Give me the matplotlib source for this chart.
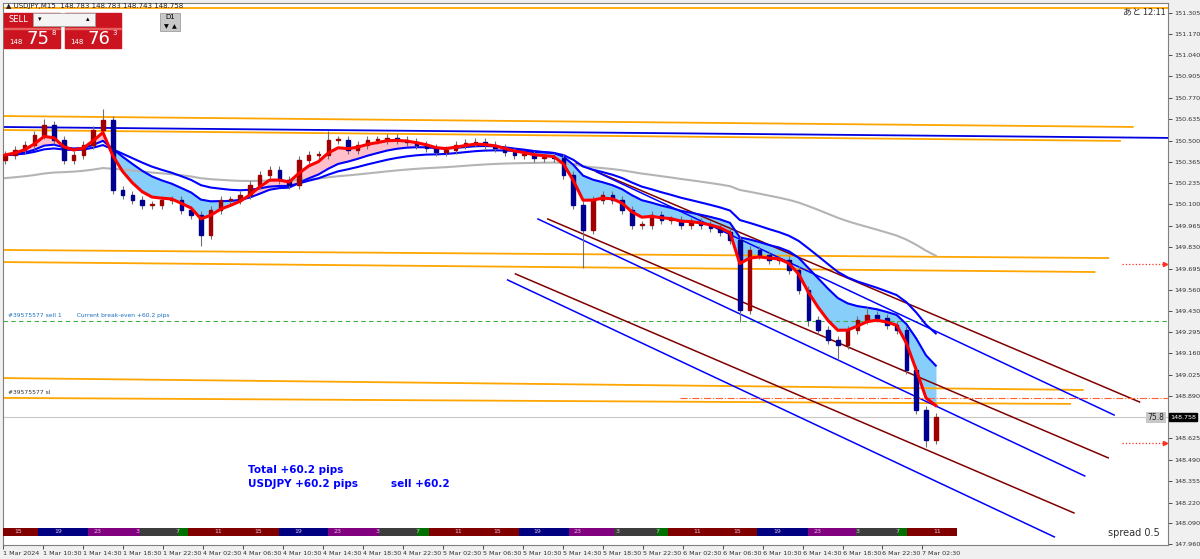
import matplotlib
matplotlib.use("Agg")
import matplotlib.pyplot as plt
import matplotlib.transforms as mtransforms
from matplotlib.patches import Rectangle
import numpy as np
import pandas as pd

plt.rcParams['font.family'] = ['DejaVu Sans', 'Noto Sans CJK JP']

# ---------------- data ----------------
closes = [150.410, 150.442, 150.473, 150.536, 150.599, 150.505, 150.379, 150.410, 150.473, 150.568,
          150.631, 150.190, 150.158, 150.127, 150.095, 150.095, 150.127, 150.127, 150.064, 150.032,
          149.906, 150.064, 150.127, 150.127, 150.158, 150.221, 150.284, 150.316, 150.253, 150.221,
          150.379, 150.410, 150.410, 150.505, 150.505, 150.442, 150.473, 150.505, 150.505, 150.518,
          150.505, 150.492, 150.473, 150.455, 150.429, 150.442, 150.473, 150.486, 150.492, 150.473,
          150.455, 150.429, 150.410, 150.410, 150.392, 150.398, 150.392, 150.284, 150.095, 149.938,
          150.127, 150.158, 150.127, 150.064, 149.969, 149.969, 150.032, 150.001, 150.001, 149.969,
          149.988, 149.969, 149.951, 149.925, 149.875, 149.434, 149.812, 149.780, 149.749, 149.749,
          149.686, 149.560, 149.371, 149.308, 149.245, 149.213, 149.308, 149.371, 149.402, 149.384,
          149.339, 149.308, 149.056, 148.804, 148.615, 148.758]
first_open = 150.380
spike_high = {10: 150.700, 4: 150.640, 33: 150.560, 88: 149.450}
spike_low = {20: 149.840, 59: 149.700, 75: 149.360, 85: 149.120, 94: 148.570, 82: 149.330}
gray_ma_start = 150.260

time_labels = ["1 Mar 2024", "1 Mar 10:30", "1 Mar 14:30", "1 Mar 18:30", "1 Mar 22:30",
               "4 Mar 02:30", "4 Mar 06:30", "4 Mar 10:30", "4 Mar 14:30", "4 Mar 18:30", "4 Mar 22:30",
               "5 Mar 02:30", "5 Mar 06:30", "5 Mar 10:30", "5 Mar 14:30", "5 Mar 18:30", "5 Mar 22:30",
               "6 Mar 02:30", "6 Mar 06:30", "6 Mar 10:30", "6 Mar 14:30", "6 Mar 18:30", "6 Mar 22:30",
               "7 Mar 02:30"]
time_tick_bars = [-0.2 + 4.08 * k for k in range(len(time_labels))]

price_ticks = [151.305, 151.170, 151.040, 150.905, 150.770, 150.635, 150.500, 150.365, 150.235,
               150.100, 149.965, 149.830, 149.695, 149.560, 149.430, 149.295, 149.160, 149.025,
               148.890, 148.625, 148.490, 148.355, 148.220, 148.090, 147.960]
last_price = 148.758

session_bounds = [-0.2, 3.4, 8.5, 13.8, 17.7, 18.7, 28.0, 33.0, 38.2, 42.1, 43.3, 52.5, 57.6,
                  62.2, 66.5, 67.7, 76.8, 82.0, 86.9, 91.1, 92.1, 97.2]
session_kinds = ["R", "N", "P", "G", "Gr", "R", "N", "P", "G", "Gr", "R", "N", "P", "G", "Gr",
                 "R", "N", "P", "G", "Gr", "R"]
session_hours = [15, 19, 23, 3, 7, 11] * 4
session_label_bars = [1.33 + 4.08 * k for k in range(24)]

channel_maroon = [(58.3, 150.360, 115.8, 148.854), (55.4, 150.007, 112.6, 148.502), (52.1, 149.661, 109.1, 148.155)]
channel_blue = [(60.4, 150.303, 113.2, 148.772), (54.4, 150.007, 110.2, 148.388), (51.3, 149.623, 107.1, 148.004)]
orange_lines = [(-0.5, 151.337, 118.7, 151.337), (-0.5, 150.656, 115.1, 150.587), (-0.5, 150.568, 113.8, 150.499),
                (-0.5, 149.812, 112.6, 149.761), (-0.5, 149.736, 111.2, 149.673),
                (-0.5, 149.005, 110.0, 148.930), (-0.5, 148.880, 108.7, 148.842)]
blue_long = (-0.5, 150.587, 118.7, 150.518)
breakeven = 149.365
stoploss = 148.880
alert_levels = [149.724, 148.596]

# ---------------- figure ----------------
W, H = 1200, 559
fig = plt.figure(figsize=(W / 100, H / 100), dpi=100)
fig.patch.set_facecolor('#f0f0f0')
ax = fig.add_axes([3 / W, 14 / H, 1165 / W, 542 / H])
ax.set_facecolor('white')
XMAX = 118.7
YLO, YHI = 147.953, 151.368
ax.set_xlim(-0.2, XMAX)
ax.set_ylim(YLO, YHI)

n = len(closes)
x = np.arange(n)
opens = [first_open] + closes[:-1]
highs = [max(o, c) + 0.025 for o, c in zip(opens, closes)]
lows = [min(o, c) - 0.025 for o, c in zip(opens, closes)]
for k, v in spike_high.items():
    highs[k] = v
for k, v in spike_low.items():
    lows[k] = v

s = pd.Series(closes)
red = s.ewm(span=4, adjust=False).mean().values
blue1 = s.ewm(span=11, adjust=False).mean().values
blue2 = s.ewm(span=20, adjust=False).mean().values
gray = pd.Series([gray_ma_start] + closes).ewm(span=65, adjust=False).mean().values[1:]

ax.fill_between(x, red, blue1, where=red >= blue1, color='#ffc0cb', interpolate=True, zorder=1)
ax.fill_between(x, red, blue1, where=red < blue1, color='#87cefa', interpolate=True, zorder=1)

for b0, p0, b1, p1 in orange_lines:
    ax.plot([b0, b1], [p0, p1], color='#ffa500', lw=1.3, zorder=2)
ax.plot([blue_long[0], blue_long[2]], [blue_long[1], blue_long[3]], color='#0000e0', lw=1.3, zorder=2)
for b0, p0, b1, p1 in channel_maroon:
    ax.plot([b0, b1], [p0, p1], color='#800000', lw=1.1, zorder=2)
for b0, p0, b1, p1 in channel_blue:
    ax.plot([b0, b1], [p0, p1], color='#0000ff', lw=1.1, zorder=2)

ax.axhline(last_price, color='#c8c8c8', lw=0.8, zorder=1)
ax.axhline(breakeven, color='#40b040', lw=0.8, ls=(0, (4, 3)), zorder=1)
ax.plot([68.9, XMAX], [stoploss, stoploss], color='#ff6030', lw=0.8, ls='-.', zorder=2)
for lv in alert_levels:
    ax.plot([114.0, XMAX - 0.3], [lv, lv], color='#ff3020', lw=0.9, ls=':', zorder=2)
    ax.plot([XMAX - 0.3], [lv], marker='>', color='#ff3020', ms=3, zorder=2)

ax.plot(x, gray, color='#b4b4b4', lw=1.5, zorder=3)
ax.plot(x, blue2, color='#0000ff', lw=1.5, zorder=3)
ax.plot(x, blue1, color='#0000ff', lw=1.5, zorder=3)

for i in range(n):
    up = closes[i] >= opens[i]
    col = '#a00000' if up else '#000090'
    ax.vlines(i, lows[i], highs[i], color='#707070', lw=0.8, zorder=4)
    ax.add_patch(Rectangle((i - 0.18, min(opens[i], closes[i])), 0.36,
                           max(abs(closes[i] - opens[i]), 0.004), color=col, zorder=5))

ax.plot(x, red, color='#ff0000', lw=2.2, zorder=6)

trans = mtransforms.blended_transform_factory(ax.transData, ax.transAxes)
scol = {"R": '#800000', "N": '#000080', "P": '#800080', "G": '#3c3c3c', "Gr": '#007000'}
for k, kind in enumerate(session_kinds):
    ax.add_patch(Rectangle((session_bounds[k], 0.017), session_bounds[k + 1] - session_bounds[k], 0.015,
                           transform=trans, color=scol[kind], zorder=7, lw=0))
for b, hrs in zip(session_label_bars, session_hours):
    ax.text(b, 0.0245, str(hrs), transform=trans, color='#e0c0e0', fontsize=4.5, ha='center', va='center', zorder=8)

for sp in ax.spines.values():
    sp.set_color('#808080')
    sp.set_linewidth(0.8)
ax.yaxis.tick_right()
ax.set_yticks(price_ticks)
ax.set_yticklabels([f"{p:.3f}" for p in price_ticks], fontsize=4.6)
ax.set_xticks(time_tick_bars)
ax.set_xticklabels(time_labels, fontsize=4.6, ha='left')
ax.tick_params(axis='both', length=3, width=0.6, colors='#303030', pad=1.5)

yf = (last_price - YLO) / (YHI - YLO)
ax.text(1.002, yf, "148.758", transform=ax.transAxes, fontsize=4.6, color='white', va='center', ha='left',
        bbox=dict(boxstyle='square,pad=0.2', fc='black', ec='black'), zorder=9)
ax.text(0.997, yf, "75.8", transform=ax.transAxes, fontsize=5.5, color='#202020', va='center', ha='right',
        bbox=dict(boxstyle='square,pad=0.15', fc='#c8c8c8', ec='none'), zorder=9)

ax.text(24.8, 148.425, "Total +60.2 pips", color='#0000ff', fontsize=7.5, fontweight='bold', va='center')
ax.text(24.8, 148.335, "USDJPY +60.2 pips", color='#0000ff', fontsize=7.5, fontweight='bold', va='center')
ax.text(39.4, 148.335, "sell +60.2", color='#0000ff', fontsize=7.5, fontweight='bold', va='center')
ax.text(0.993, 0.012, "spread 0.5", transform=ax.transAxes, fontsize=7, color='#303030', ha='right', va='bottom', zorder=9)
ax.text(0.998, 0.992, "あと 12:11", transform=ax.transAxes, fontsize=6.5, color='#303030', ha='right', va='top',
        family=['Noto Sans CJK JP', 'DejaVu Sans'], zorder=9)
ax.text(0.3, breakeven + 0.02, "#39575577 sell 1        Current break-even +60.2 pips", fontsize=4.3, color='#1a70c0', va='bottom')
ax.text(0.3, stoploss + 0.02, "#39575577 sl", fontsize=4.3, color='#303030', va='bottom')

fig.text(6 / W, 1 - 6 / H, "▲ USDJPY,M15  148.783 148.783 148.743 148.758", fontsize=5, color='#202020', va='center')
for x0, lab, big, sup in [(4, "SELL", "75", "8"), (65, "BUY", "76", "3")]:
    fig.patches.append(Rectangle((x0 / W, 1 - 48 / H), 56 / W, 35 / H, transform=fig.transFigure,
                                 color='#cc1420', zorder=10))
    fig.patches.append(Rectangle((x0 / W, 1 - 29 / H), 56 / W, 0.8 / H, transform=fig.transFigure,
                                 color='#e86060', zorder=11))
    fig.text((x0 + 14) / W, 1 - 20 / H, lab, fontsize=6, color='white', ha='center', va='center', zorder=12)
    fig.text((x0 + 12) / W, 1 - 42 / H, "148", fontsize=5, color='white', ha='center', va='center', zorder=12)
    fig.text((x0 + 34) / W, 1 - 39 / H, big, fontsize=13, color='white', ha='center', va='center', zorder=12)
    fig.text((x0 + 50) / W, 1 - 33 / H, sup, fontsize=5, color='white', ha='center', va='center', zorder=12)
fig.patches.append(Rectangle((33 / W, 1 - 26 / H), 62 / W, 13 / H, transform=fig.transFigure,
                             fc='#f4f4f4', ec='#a0a0a0', lw=0.6, zorder=13))
fig.text(40 / W, 1 - 19.5 / H, "▾", fontsize=5, ha='center', va='center', zorder=14)
fig.text(88 / W, 1 - 19.5 / H, "▴", fontsize=5, ha='center', va='center', zorder=14)
fig.patches.append(Rectangle((160 / W, 1 - 31 / H), 20 / W, 18 / H, transform=fig.transFigure,
                             fc='#c8c8c8', ec='#a0a0a0', lw=0.6, zorder=13))
fig.text(170 / W, 1 - 17 / H, "D1", fontsize=5, ha='center', va='center', zorder=14)
fig.text(166 / W, 1 - 26.5 / H, "▼", fontsize=4.5, ha='center', va='center', zorder=14)
fig.text(174 / W, 1 - 26.5 / H, "▲", fontsize=4.5, ha='center', va='center', zorder=14)

fig.savefig("out.png", dpi=100, facecolor=fig.get_facecolor())
